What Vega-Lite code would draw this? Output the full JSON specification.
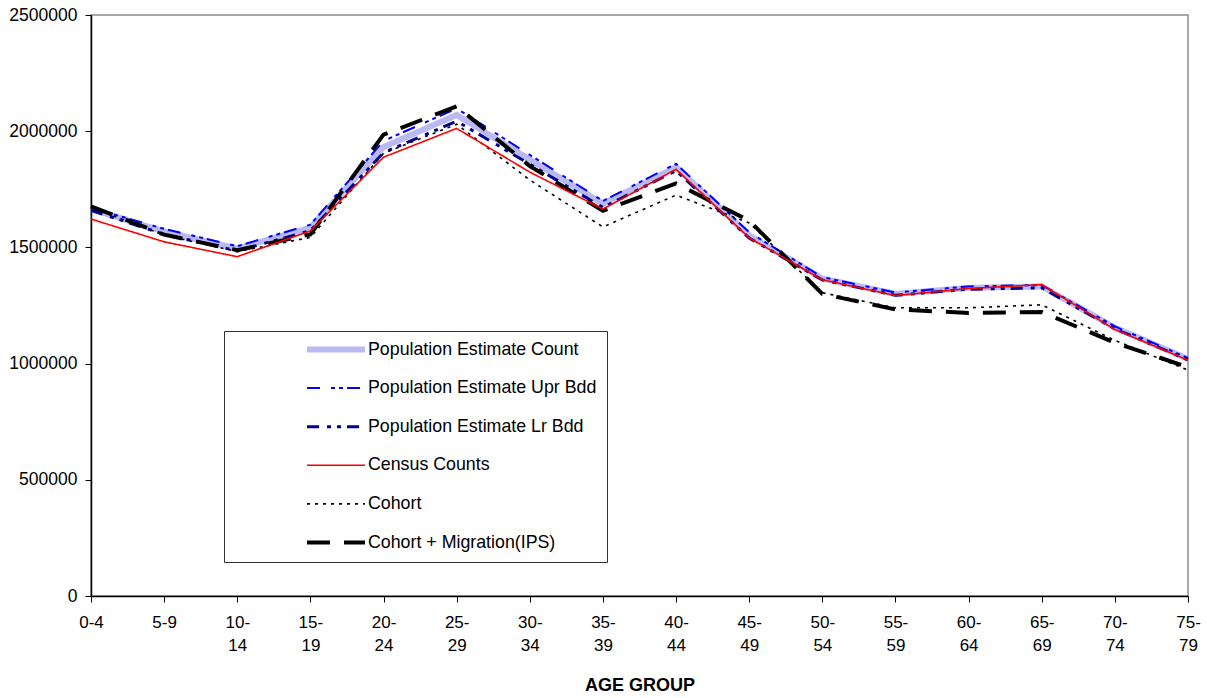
{
  "$schema": "https://vega.github.io/schema/vega-lite/v6.json",
  "width": 1097,
  "height": 581,
  "autosize": {"type": "none"},
  "padding": {"left": 91, "top": 15, "right": 19, "bottom": 102},
  "background": "white",
  "config": {
    "font": "Liberation Sans",
    "view": {"stroke": "#8c8c8c", "strokeWidth": 1.5},
    "axis": {"domainColor": "#000", "domainWidth": 1.5, "tickColor": "#000", "tickWidth": 1, "labelColor": "#000", "labelFont": "Liberation Sans", "grid": false}
  },
  "data": {
    "values": [
      {"age": "0-4", "Population Estimate Count": 1665000, "Population Estimate Upr Bdd": 1670000, "Population Estimate Lr Bdd": 1660000, "Cohort": 1672000, "Cohort  + Migration(IPS)": 1677000, "Census Counts": 1622000},
      {"age": "5-9", "Population Estimate Count": 1568000, "Population Estimate Upr Bdd": 1580000, "Population Estimate Lr Bdd": 1556000, "Cohort": 1553000, "Cohort  + Migration(IPS)": 1555000, "Census Counts": 1524000},
      {"age": "10-14", "Population Estimate Count": 1495000, "Population Estimate Upr Bdd": 1505000, "Population Estimate Lr Bdd": 1485000, "Cohort": 1482000, "Cohort  + Migration(IPS)": 1488000, "Census Counts": 1460000},
      {"age": "15-19", "Population Estimate Count": 1585000, "Population Estimate Upr Bdd": 1598000, "Population Estimate Lr Bdd": 1572000, "Cohort": 1543000, "Cohort  + Migration(IPS)": 1556000, "Census Counts": 1571000},
      {"age": "20-24", "Population Estimate Count": 1932000, "Population Estimate Upr Bdd": 1958000, "Population Estimate Lr Bdd": 1908000, "Cohort": 1905000, "Cohort  + Migration(IPS)": 1985000, "Census Counts": 1888000},
      {"age": "25-29", "Population Estimate Count": 2070000, "Population Estimate Upr Bdd": 2098000, "Population Estimate Lr Bdd": 2043000, "Cohort": 2030000, "Cohort  + Migration(IPS)": 2107000, "Census Counts": 2012000},
      {"age": "30-34", "Population Estimate Count": 1878000, "Population Estimate Upr Bdd": 1898000, "Population Estimate Lr Bdd": 1858000, "Cohort": 1790000, "Cohort  + Migration(IPS)": 1850000, "Census Counts": 1824000},
      {"age": "35-39", "Population Estimate Count": 1688000, "Population Estimate Upr Bdd": 1700000, "Population Estimate Lr Bdd": 1672000, "Cohort": 1588000, "Cohort  + Migration(IPS)": 1658000, "Census Counts": 1665000},
      {"age": "40-44", "Population Estimate Count": 1845000, "Population Estimate Upr Bdd": 1860000, "Population Estimate Lr Bdd": 1830000, "Cohort": 1725000, "Cohort  + Migration(IPS)": 1775000, "Census Counts": 1836000},
      {"age": "45-49", "Population Estimate Count": 1552000, "Population Estimate Upr Bdd": 1565000, "Population Estimate Lr Bdd": 1540000, "Cohort": 1605000, "Cohort  + Migration(IPS)": 1615000, "Census Counts": 1541000},
      {"age": "50-54", "Population Estimate Count": 1366000, "Population Estimate Upr Bdd": 1372000, "Population Estimate Lr Bdd": 1360000, "Cohort": 1305000, "Cohort  + Migration(IPS)": 1300000, "Census Counts": 1361000},
      {"age": "55-59", "Population Estimate Count": 1300000, "Population Estimate Upr Bdd": 1306000, "Population Estimate Lr Bdd": 1294000, "Cohort": 1240000, "Cohort  + Migration(IPS)": 1233000, "Census Counts": 1293000},
      {"age": "60-64", "Population Estimate Count": 1326000, "Population Estimate Upr Bdd": 1332000, "Population Estimate Lr Bdd": 1320000, "Cohort": 1240000, "Cohort  + Migration(IPS)": 1218000, "Census Counts": 1323000},
      {"age": "65-69", "Population Estimate Count": 1332000, "Population Estimate Upr Bdd": 1338000, "Population Estimate Lr Bdd": 1326000, "Cohort": 1253000, "Cohort  + Migration(IPS)": 1222000, "Census Counts": 1340000},
      {"age": "70-74", "Population Estimate Count": 1155000, "Population Estimate Upr Bdd": 1160000, "Population Estimate Lr Bdd": 1150000, "Cohort": 1100000, "Cohort  + Migration(IPS)": 1090000, "Census Counts": 1147000},
      {"age": "75-79", "Population Estimate Count": 1020000, "Population Estimate Upr Bdd": 1024000, "Population Estimate Lr Bdd": 1016000, "Cohort": 972000, "Cohort  + Migration(IPS)": 985000, "Census Counts": 1015000}
    ]
  },
  "transform": [
    {"fold": ["Population Estimate Count", "Population Estimate Upr Bdd", "Population Estimate Lr Bdd", "Cohort", "Cohort  + Migration(IPS)", "Census Counts"], "as": ["series", "value"]}
  ],
  "mark": {"type": "line", "strokeCap": "butt", "strokeJoin": "miter"},
  "encoding": {
    "x": {
      "field": "age", "type": "ordinal", "sort": null,
      "scale": {"type": "point", "padding": 0},
      "axis": {
        "title": "AGE GROUP", "titleFontSize": 18, "titleFontWeight": "bold", "titleColor": "#000", "titlePadding": 23,
        "labelAngle": 0, "labelFontSize": 17, "labelLineHeight": 23, "labelPadding": 12, "tickSize": 6,
        "labelExpr": "length(datum.label) > 3 ? [substring(datum.label, 0, 3), substring(datum.label, 3)] : datum.label"
      }
    },
    "y": {
      "field": "value", "type": "quantitative",
      "scale": {"domain": [0, 2500000]},
      "axis": {"title": null, "values": [0, 500000, 1000000, 1500000, 2000000, 2500000], "format": "d", "labelFontSize": 17.5, "tickSize": 6, "labelPadding": 8}
    },
    "color": {
      "field": "series", "type": "nominal",
      "scale": {
        "domain": ["Population Estimate Count", "Population Estimate Upr Bdd", "Population Estimate Lr Bdd", "Census Counts", "Cohort", "Cohort  + Migration(IPS)"],
        "range": ["#b9b9f3", "#0000ff", "#000090", "#ff0000", "#000000", "#000000"]
      },
      "legend": {"title": null, "orient": "none", "legendX": 133, "legendY": 316, "direction": "vertical", "symbolType": "stroke", "symbolSize": 3364, "symbolOffset": 70, "labelOffset": 0, "clipHeight": 17, "labelFontSize": 17.8, "labelFont": "Liberation Sans", "labelColor": "#000", "labelLimit": 400, "rowPadding": 19.6, "padding": 10, "strokeColor": "#333", "fillColor": "white"}
    },
    "strokeDash": {
      "field": "series", "type": "nominal",
      "scale": {
        "domain": ["Population Estimate Count", "Population Estimate Upr Bdd", "Population Estimate Lr Bdd", "Census Counts", "Cohort", "Cohort  + Migration(IPS)"],
        "range": [[1, 0], [13, 11, 4, 4, 4, 4], [12, 8, 4, 6, 4, 6], [1, 0], [3, 5], [23, 14]]
      },
      "legend": {"title": null, "orient": "none", "legendX": 133, "legendY": 316, "direction": "vertical", "symbolType": "stroke", "symbolSize": 3364, "symbolOffset": 70, "labelOffset": 0, "clipHeight": 17, "labelFontSize": 17.8, "labelFont": "Liberation Sans", "labelColor": "#000", "labelLimit": 400, "rowPadding": 19.6, "padding": 10, "strokeColor": "#333", "fillColor": "white"}
    },
    "strokeWidth": {
      "field": "series", "type": "nominal",
      "scale": {
        "type": "ordinal",
        "domain": ["Population Estimate Count", "Population Estimate Upr Bdd", "Population Estimate Lr Bdd", "Census Counts", "Cohort", "Cohort  + Migration(IPS)"],
        "range": [6, 2, 3, 1.6, 1.6, 4]
      },
      "legend": {"title": null, "orient": "none", "legendX": 133, "legendY": 316, "direction": "vertical", "symbolType": "stroke", "symbolSize": 3364, "symbolOffset": 70, "labelOffset": 0, "clipHeight": 17, "labelFontSize": 17.8, "labelFont": "Liberation Sans", "labelColor": "#000", "labelLimit": 400, "rowPadding": 19.6, "padding": 10, "strokeColor": "#333", "fillColor": "white"}
    }
  }
}
